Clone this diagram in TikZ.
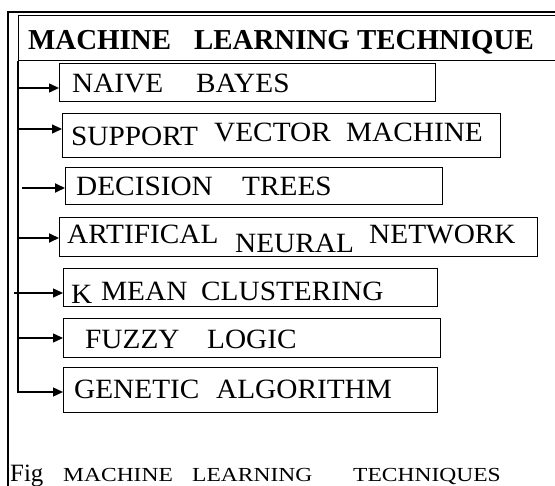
\documentclass[tikz,border=0pt]{standalone}
\usepackage{fontspec}
\setmainfont{Liberation Serif}
\newfontfamily\widefont[FakeStretch=1.05]{Liberation Serif}
\usetikzlibrary{arrows.meta}
\begin{document}
\begin{tikzpicture}[x=1bp,y=-1bp,
  itembox/.style={draw=black,line width=1.3bp,inner sep=0pt,anchor=north west},
  word/.style={inner sep=0pt,anchor=base west,font=\widefont\fontsize{28}{30}\selectfont},
  headword/.style={inner sep=0pt,anchor=base west,font=\fontsize{29}{31}\selectfont\bfseries},
  figword/.style={inner sep=0pt,anchor=base west,font=\fontsize{25}{27}\selectfont},
  capword/.style={inner sep=0pt,anchor=base west,font=\fontsize{20}{22}\selectfont},
  feed/.style={line width=1.3bp,-{Triangle[length=10bp,width=9bp]}},
  thickfeed/.style={feed,line width=2bp},
]
\useasboundingbox (0,0) rectangle (555,486);
\clip (0,0) rectangle (555,486);

% outer frame and heading bar
\draw[line width=2bp] (8,495) -- (8,12) -- (565,12);
\node[draw=black,line width=1bp,inner sep=0pt,anchor=north west,
      minimum width=560bp,minimum height=45bp] (title) at (18,15) {};
\node[headword] (h1) at (28,50) {MACHINE};
\node[headword] (h2) at (194,50) {LEARNING};
\node[headword] (h3) at (357,50) {TECHNIQUE};

% technique boxes
\node[itembox,minimum width=376bp,minimum height=38bp] (b1) at (59,63) {};
\node[itembox,minimum width=438bp,minimum height=44bp] (b2) at (62,113) {};
\node[itembox,minimum width=377bp,minimum height=37bp] (b3) at (65,167) {};
\node[itembox,minimum width=478bp,minimum height=39bp] (b4) at (59,217) {};
\node[itembox,minimum width=374bp,minimum height=38bp] (b5) at (63,268) {};
\node[itembox,minimum width=377bp,minimum height=39bp] (b6) at (63,318) {};
\node[itembox,minimum width=374bp,minimum height=45bp] (b7) at (63,367) {};

% box labels
\node[word] (n1) at (72,93) {NAIVE};
\node[word] (n2) at (196,93) {BAYES};
\node[word] (s1) at (71,146) {SUPPORT};
\node[word] (s2) at (214,142) {VECTOR};
\node[word] (s3) at (346,142) {MACHINE};
\node[word] (d1) at (76,196) {DECISION};
\node[word] (d2) at (242,196) {TREES};
\node[word] (a1) at (67,243) {ARTIFICAL};
\node[word] (a2) at (235,252) {NEURAL};
\node[word] (a3) at (369,243) {NETWORK};
\node[word] (k1) at (71,303) {K};
\node[word] (k2) at (101,300) {MEAN};
\node[word] (k3) at (201,300) {CLUSTERING};
\node[word] (f1) at (85,348) {FUZZY};
\node[word] (f2) at (207,348) {LOGIC};
\node[word] (g1) at (74,398) {GENETIC};
\node[word] (g2) at (216,398) {ALGORITHM};

% connectors from the trunk
\coordinate (t1) at (18,88);
\coordinate (t2) at (18,129);
\coordinate (t3) at (22,188);
\coordinate (t4) at (18,238);
\coordinate (t5) at (14,293);
\coordinate (t6) at (18,338);
\coordinate (t7) at (18,392);
\draw[feed] (title.south west) -- (t7) -- (t7 -| b7.west);
\draw[feed] (t1) -- (t1 -| b1.west);
\draw[feed] (t2) -- (t2 -| b2.west);
\draw[thickfeed] (t3) -- (t3 -| b3.west);
\draw[thickfeed] (t4) -- (t4 -| b4.west);
\draw[feed] (t5) -- (t5 -| b5.west);
\draw[feed] (t6) -- (t6 -| b6.west);

% caption
\node[figword] (c0) at (10,481) {Fig};
\node[capword] (c1) at (63,481) {\scalebox{1.18}[1]{MACHINE}};
\node[capword] (c2) at (192,481) {\scalebox{1.18}[1]{LEARNING}};
\node[capword] (c3) at (353,481) {\scalebox{1.18}[1]{TECHNIQUES}};
\end{tikzpicture}
\end{document}
